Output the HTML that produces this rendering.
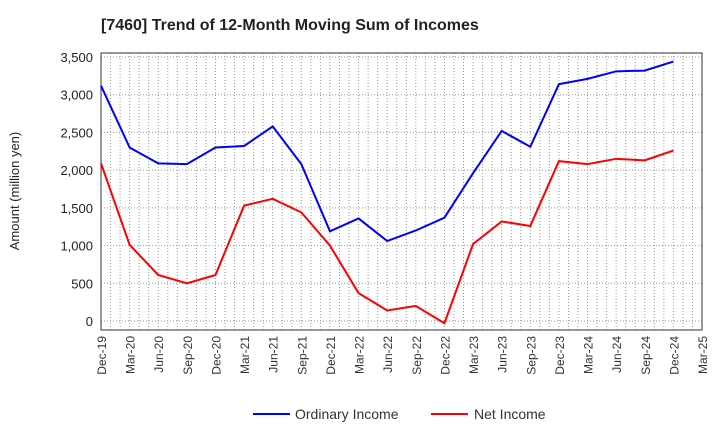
<!DOCTYPE html>
<html><head><meta charset="utf-8"><style>
body{margin:0;background:#fff;font-family:"Liberation Sans",sans-serif}
</style></head><body>
<svg width="720" height="440" xmlns="http://www.w3.org/2000/svg">
<text x="101" y="30" font-size="16" font-weight="bold" fill="#222">[7460]  Trend of 12-Month Moving Sum of Incomes</text>
<g id="grid"></g>
<g id="axes"></g>
<g id="lines"></g>
<text transform="translate(19,191) rotate(-90)" text-anchor="middle" font-size="13" fill="#222">Amount (million yen)</text>
<g>
<line x1="253" y1="414" x2="290" y2="414" stroke="#0000ff" stroke-width="2"/>
<text x="295" y="419" font-size="14" fill="#333">Ordinary Income</text>
<line x1="431" y1="414" x2="468" y2="414" stroke="#ff0000" stroke-width="2"/>
<text x="474" y="419" font-size="14" fill="#333">Net Income</text>
</g>
</svg>
<script>
const xLabels=["Dec-19","Mar-20","Jun-20","Sep-20","Dec-20","Mar-21","Jun-21","Sep-21","Dec-21","Mar-22","Jun-22","Sep-22","Dec-22","Mar-23","Jun-23","Sep-23","Dec-23","Mar-24","Jun-24","Sep-24","Dec-24","Mar-25"];
const yTicks=[0,500,1000,1500,2000,2500,3000,3500];
const ordinary=[3120,2300,2090,2080,2300,2320,2580,2080,1190,1360,1060,1200,1370,1960,2520,2310,3140,3210,3310,3320,3440];
const netIncome=[2090,1010,610,500,610,1530,1620,1440,1000,370,140,200,-30,1020,1320,1260,2120,2080,2150,2130,2260];
const L=101,R=702,T=53,B=330;
const x=i=>L+i*(R-L)/21, y=v=>321-v*(264/3500);
const NS="http://www.w3.org/2000/svg";
function mk(t,a,p){const e=document.createElementNS(NS,t);for(const k in a)e.setAttribute(k,a[k]);p.appendChild(e);return e;}
const g=document.getElementById('grid'),ax=document.getElementById('axes'),ln=document.getElementById('lines');
for(let m=0;m<=63;m++){const xx=L+m*(R-L)/63;const e=mk('line',{x1:xx,x2:xx,y1:T,y2:B,stroke:'#999','stroke-width':1,'stroke-dasharray':'1,2'},g);

}
yTicks.forEach(v=>{const e=mk('line',{x1:L,x2:R,y1:y(v),y2:y(v),stroke:'#999','stroke-width':1,'stroke-dasharray':'1,2'},g);


const t=mk('text',{x:93,y:y(v)+5,'text-anchor':'end','font-size':13,fill:'#222'},ax);t.textContent=v.toLocaleString('en-US');

});
const fr=mk('rect',{x:L,y:T,width:R-L,height:B-T,fill:'none',stroke:'#333','stroke-width':1},ax);


xLabels.forEach((s,i)=>{const t=mk('text',{transform:`translate(${x(i)+5},336) rotate(-90)`,'text-anchor':'end','font-size':12,fill:'#333'},ax);t.textContent=s;

});
[[ordinary,'#0000ff','ordinary-income-line'],[netIncome,'#ff0000','net-income-line']].forEach(([d,c,n])=>{
const p=mk('polyline',{points:d.map((v,i)=>x(i)+','+y(v)).join(' '),fill:'none',stroke:c,'stroke-width':2},ln);

});
</script>
</body></html>
